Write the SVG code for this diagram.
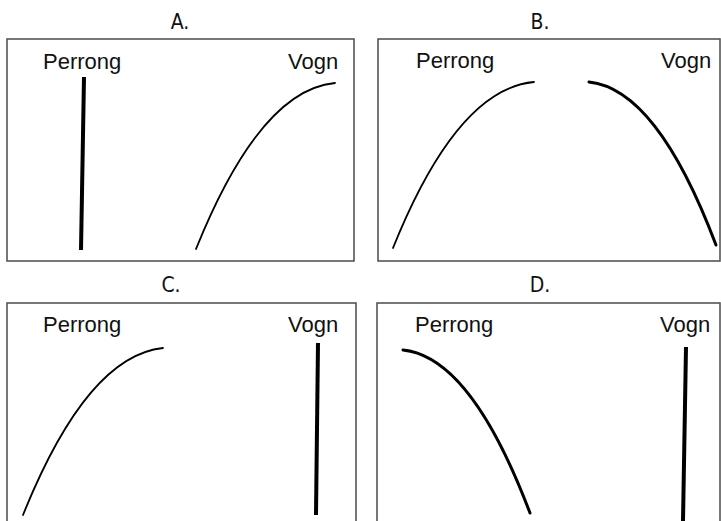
<svg xmlns="http://www.w3.org/2000/svg" width="721" height="521" viewBox="0 0 721 521">
<style>
.frame{fill:none;stroke:#555;stroke-width:1.6}
.lbl{font-family:"Liberation Sans",Arial,sans-serif;font-size:22px;fill:#111}
.ttl{font-family:"DejaVu Sans Condensed","Liberation Sans",sans-serif;font-size:21px;fill:#111;text-anchor:middle}
.thin{fill:none;stroke:#000;stroke-width:1.8;stroke-linecap:round}
.mid{fill:none;stroke:#000;stroke-width:3;stroke-linecap:round}
.bar{fill:none;stroke:#000;stroke-width:4;stroke-linecap:butt}
</style>
<rect width="721" height="521" fill="#fff"/>
<g id="panelA">
<text class="ttl" x="180" y="29">A.</text>
<rect class="frame" x="7" y="39" width="347" height="222"/>
<text class="lbl" x="43" y="69">Perrong</text>
<text class="lbl" x="288" y="69">Vogn</text>
</g>
<g id="panelB">
<text class="ttl" x="540" y="29">B.</text>
<rect class="frame" x="378" y="39" width="342" height="222"/>
<text class="lbl" x="416" y="68">Perrong</text>
<text class="lbl" x="661" y="68">Vogn</text>
</g>
<g id="panelC">
<text class="ttl" x="171" y="292">C.</text>
<rect class="frame" x="7" y="303" width="349" height="230"/>
<text class="lbl" x="43" y="332">Perrong</text>
<text class="lbl" x="288" y="332">Vogn</text>
</g>
<g id="panelD">
<text class="ttl" x="540" y="292">D.</text>
<rect class="frame" x="377" y="303" width="343" height="230"/>
<text class="lbl" x="415" y="332">Perrong</text>
<text class="lbl" x="660" y="332">Vogn</text>
</g>
<g id="connectors">
<path class="bar" d="M84,77 L81,250"/>
<path class="thin" d="M196,249 Q260,90 335,83"/>
<path class="thin" d="M393,248 Q457,89 534,82"/>
<path class="mid" d="M589,82 Q657,89 716,245"/>
<path class="thin" d="M23,515 Q87,356 163,348"/>
<path class="bar" d="M318,343 L316,515"/>
<path class="mid" d="M403,350 Q471,357 530,513"/>
<path class="bar" d="M686,347 L683,521"/>
</g>
</svg>
